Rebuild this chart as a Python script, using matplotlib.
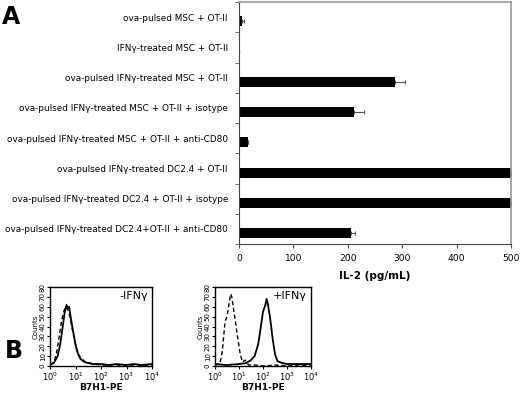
import matplotlib.pyplot as plt
import numpy as np

plt.rcParams['font.family'] = ['DejaVu Sans']

# panel A data
conditions = ['ova-pulsed MSC + OT-II',
              'IFN\u03b3-treated MSC + OT-II',
              'ova-pulsed IFN\u03b3-treated MSC + OT-II',
              'ova-pulsed IFN\u03b3-treated MSC + OT-II + isotype',
              'ova-pulsed IFN\u03b3-treated MSC + OT-II + anti-CD80',
              'ova-pulsed IFN\u03b3-treated DC2.4 + OT-II',
              'ova-pulsed IFN\u03b3-treated DC2.4 + OT-II + isotype',
              'ova-pulsed IFN\u03b3-treated DC2.4+OT-II + anti-CD80']
il2 = [6, 0, 287, 211, 17, 500, 500, 205]
il2_err = [4, 0, 19, 19, 0, 0, 0, 8]

# panel B data (log10 fluorescence, counts)
lx_left_solid = [0, 0.15, 0.3, 0.4, 0.5, 0.58, 0.65, 0.7, 0.75, 0.82, 0.9, 1.0, 1.1, 1.2, 1.35, 1.5, 1.7, 2.0, 2.3, 2.6, 3.0, 3.3, 3.6, 4.0]
cnt_left_solid = [1, 3, 10, 22, 40, 55, 62, 58, 60, 48, 36, 22, 12, 7, 4, 3, 2, 2, 1, 2, 1, 2, 1, 2]
lx_left_dash = [0, 0.15, 0.25, 0.35, 0.45, 0.55, 0.62, 0.7, 0.78, 0.85, 0.95, 1.05, 1.2, 1.4, 1.7, 2.0, 2.5, 3.0, 3.5, 4.0]
cnt_left_dash = [1, 4, 12, 28, 45, 56, 60, 57, 50, 40, 28, 16, 8, 4, 2, 1, 1, 1, 1, 1]
lx_right_dash = [0, 0.2, 0.3, 0.42, 0.5, 0.58, 0.65, 0.7, 0.76, 0.85, 0.95, 1.05, 1.15, 1.25, 1.4, 1.7, 2.0, 2.5, 3.0, 3.5, 4.0]
cnt_right_dash = [1, 2, 14, 45, 50, 62, 73, 70, 60, 45, 28, 12, 4, 6, 1, 1, 0, 1, 0, 1, 0]
lx_right_solid = [0, 0.5, 1.0, 1.3, 1.5, 1.65, 1.8, 1.9, 2.0, 2.1, 2.15, 2.2, 2.3, 2.4, 2.5, 2.6, 2.8, 3.0, 3.4, 4.0]
cnt_right_solid = [2, 1, 2, 3, 6, 10, 22, 38, 55, 62, 68, 63, 48, 28, 12, 5, 3, 2, 2, 2]

fig = plt.figure(figsize=(5.2, 3.94), dpi=100)

# ---- panel A ----
ax = fig.add_axes([239/520, 1-244/394, 272/520, 242/394])
ypos = np.arange(len(conditions)) + 0.14
ax.barh(ypos, il2, height=0.33, color='black',
        xerr=[np.zeros(len(il2_err)), il2_err], error_kw=dict(ecolor='#555555', elinewidth=0.8, capsize=1.5, capthick=0.8))
ax.set_xlim(0, 500)
ax.set_ylim(7.5, -0.5)
ax.set_yticks(np.arange(len(conditions)))
ax.set_yticklabels(conditions, fontsize=6.4)
ax.tick_params(axis='y', length=0, pad=8)
ax.set_yticks(np.arange(-0.5, 8, 1), minor=True)
ax.tick_params(axis='y', which='minor', length=3, color='#555555')
ax.set_xticks(np.arange(0, 501, 100))
ax.tick_params(axis='x', labelsize=6.6, length=3, color='#555555', pad=4)
ax.set_xlabel('IL-2 (pg/mL)', fontsize=7.5, fontweight='bold', labelpad=6)
for s in ['top', 'right']:
    ax.spines[s].set_color('#999999')
    ax.spines[s].set_linewidth(1.2)
for s in ['left', 'bottom']:
    ax.spines[s].set_color('#444444')
    ax.spines[s].set_linewidth(0.8)
fig.text(2/520, 1-17/394, 'A', fontsize=17, fontweight='bold', va='center', ha='left')
fig.text(5/520, 1-351/394, 'B', fontsize=17, fontweight='bold', va='center', ha='left')

# ---- panel B ----
def hist_panel(rect, xs, ys, xd, yd, label):
    h = fig.add_axes(rect)
    h.plot(10**np.array(xd), yd, color='black', lw=1.0, ls=(0, (3, 2)))
    h.plot(10**np.array(xs), ys, color='black', lw=1.3)
    h.set_xscale('log')
    h.set_xlim(1, 1e4)
    h.set_ylim(0, 80)
    h.set_yticks(range(0, 81, 10))
    h.set_xticks([1, 10, 100, 1000, 10000])
    h.minorticks_off()
    h.tick_params(axis='y', labelsize=5, labelrotation=90, length=2, pad=1)
    h.tick_params(axis='x', labelsize=6, length=2, pad=1)
    for t in h.get_yticklabels():
        t.set_va('center')
    h.set_ylabel('Counts', fontsize=5, labelpad=1)
    h.set_xlabel('B7H1-PE', fontsize=6.5, fontweight='bold', labelpad=0)
    h.text(0.96, 0.88, label, transform=h.transAxes, fontsize=8, ha='right', va='center')
    for s in h.spines.values():
        s.set_linewidth(1.0)

hist_panel([50/520, 1-366/394, 102/520, 79/394], lx_left_solid, cnt_left_solid,
           lx_left_dash, cnt_left_dash, '-IFN\u03b3')
hist_panel([215/520, 1-366/394, 96/520, 79/394], lx_right_solid, cnt_right_solid,
           lx_right_dash, cnt_right_dash, '+IFN\u03b3')

fig.savefig('out.png', dpi=100)
